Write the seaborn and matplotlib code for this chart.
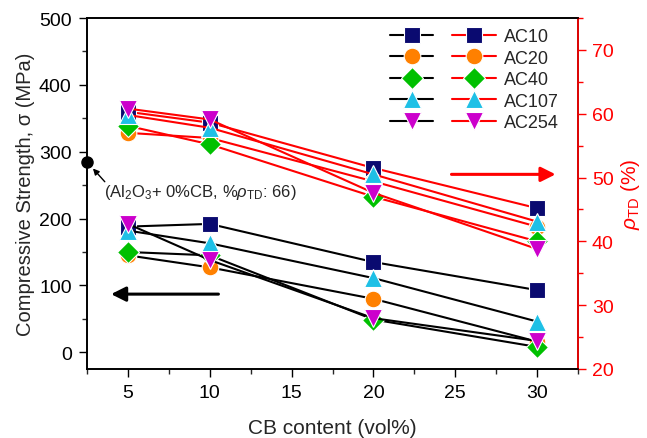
import numpy as np
import matplotlib
matplotlib.use("Agg")
import matplotlib.pyplot as plt
from matplotlib.lines import Line2D
from matplotlib.ticker import MultipleLocator
import seaborn as sns

# CB content (vol%)
cb = [5, 10, 20, 30]
samples = ["AC10", "AC20", "AC40", "AC107", "AC254"]

# compressive strength (MPa), left axis
strength_ac10 = [188, 192, 135, 93]
strength_ac20 = [145, 127, 80, 16]
strength_ac40 = [150, 145, 49, 8]
strength_ac107 = [182, 163, 111, 46]
strength_ac254 = [192, 138, 51, 17]

# relative density (%), right axis
density_ac10 = [60.3, 58.6, 51.5, 45.2]
density_ac20 = [57.0, 56.2, 49.4, 42.3]
density_ac40 = [58.1, 55.2, 47.0, 40.0]
density_ac107 = [59.8, 57.8, 50.5, 43.1]
density_ac254 = [60.8, 59.1, 47.6, 38.8]

# reference sample: Al2O3 + 0% CB
ref_cb = 2.5
ref_strength = 285

strength = [strength_ac10, strength_ac20, strength_ac40, strength_ac107, strength_ac254]
density = [density_ac10, density_ac20, density_ac40, density_ac107, density_ac254]
markers = ["s", "o", "D", "^", "v"]
colors = ["#0a0a70", "#ff8000", "#00c000", "#1ec0e6", "#cc00cc"]
msizes = [11, 12, 11, 13, 13]

sns.set_style("ticks")
plt.rcParams["font.family"] = ["Liberation Sans", "DejaVu Sans"]
plt.rcParams["mathtext.fontset"] = "custom"
plt.rcParams["mathtext.rm"] = "Liberation Sans"
plt.rcParams["mathtext.it"] = "Liberation Sans:italic"

fig = plt.figure(figsize=(6.47, 4.39), dpi=100)
ax = fig.add_axes([87 / 647, 1 - 370 / 439, (578 - 87) / 647, (370 - 19) / 439])
ax2 = ax.twinx()

for s, m, c, ms in zip(strength, markers, colors, msizes):
    sns.lineplot(x=cb, y=s, ax=ax, color="black", lw=1.5, marker=m, markersize=ms,
                 markerfacecolor=c, markeredgecolor="white", markeredgewidth=0.8,
                 legend=False)
for d, m, c, ms in zip(density, markers, colors, msizes):
    sns.lineplot(x=cb, y=d, ax=ax2, color="red", lw=1.5, marker=m, markersize=ms,
                 markerfacecolor=c, markeredgecolor="white", markeredgewidth=0.8,
                 legend=False)

# Al2O3 reference point on the left spine
ax.plot([ref_cb], [ref_strength], "o", color="black", ms=8, clip_on=False, zorder=5)
ax.annotate("", xy=(2.75, 278), xytext=(3.7, 252),
            arrowprops=dict(arrowstyle="-|>", color="black", lw=1, mutation_scale=9))
ax.text(3.55, 240, r"(Al$_2$O$_3$+ 0%CB, %$\rho_{\mathrm{TD}}$: 66)", fontsize=12,
        va="center", ha="left")

# direction arrows
ax.annotate("", xy=(3.8, 87), xytext=(10.7, 87),
            arrowprops=dict(arrowstyle="-|>", color="black", lw=2.2, mutation_scale=22))
ax2.annotate("", xy=(31.3, 50.5), xytext=(24.6, 50.5),
             arrowprops=dict(arrowstyle="-|>", color="red", lw=2.2, mutation_scale=22))

ax.set_xlim(2.5, 32.5)
ax.set_ylim(-25, 500)
ax2.set_ylim(20, 75)

ax.xaxis.set_major_locator(MultipleLocator(5))
ax.xaxis.set_minor_locator(MultipleLocator(2.5))
ax.yaxis.set_major_locator(MultipleLocator(100))
ax.yaxis.set_minor_locator(MultipleLocator(50))
ax2.yaxis.set_major_locator(MultipleLocator(10))
ax2.yaxis.set_minor_locator(MultipleLocator(5))

ax.tick_params(axis="both", which="major", direction="out", length=6, width=1,
               labelsize=14, colors="black", pad=5)
ax.tick_params(axis="both", which="minor", direction="out", length=3.5, width=1)
ax2.tick_params(axis="y", which="major", direction="out", length=6, width=1,
                labelsize=14, colors="red", pad=4)
ax2.tick_params(axis="y", which="minor", direction="out", length=3.5, width=1, colors="red")

for a in (ax, ax2):
    for sp in a.spines.values():
        sp.set_visible(True)
        sp.set_linewidth(1.2)
        sp.set_color("black")
ax2.spines["right"].set_color("red")

ax.set_xlabel("CB content (vol%)", fontsize=15, labelpad=12)
ax.set_ylabel("Compressive Strength, σ (MPa)", fontsize=14.5, labelpad=3)
ax2.set_ylabel(r"$\rho_{\mathrm{TD}}$ (%)", fontsize=15, color="red", labelpad=4)

handles = []
for m, c, ms in zip(markers, colors, msizes):
    handles.append(Line2D([], [], color="black", lw=1.5, marker=m, markersize=ms,
                          markerfacecolor=c, markeredgecolor="white", markeredgewidth=0.8))
for m, c, ms in zip(markers, colors, msizes):
    handles.append(Line2D([], [], color="red", lw=1.5, marker=m, markersize=ms,
                          markerfacecolor=c, markeredgecolor="white", markeredgewidth=0.8))
labels = [""] * len(samples) + samples
ax2.legend(handles, labels, ncol=2, frameon=False, fontsize=13, loc="upper left",
           bbox_to_anchor=(381 / 647, 1 - 20 / 439), bbox_transform=fig.transFigure,
           borderpad=0, handlelength=2.4, handletextpad=0.45, columnspacing=0.6,
           labelspacing=0.25, numpoints=1)

fig.savefig("out.png", dpi=100)
